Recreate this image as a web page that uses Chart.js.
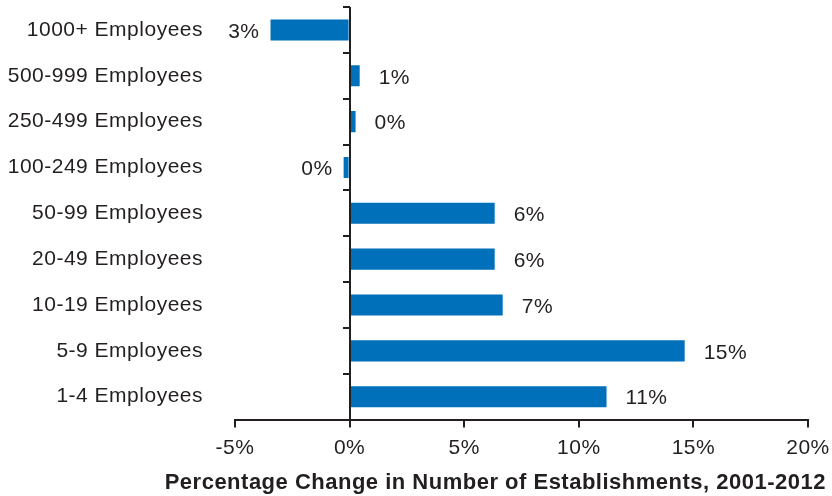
<!DOCTYPE html>
<html>
<head>
<meta charset="utf-8">
<script src="https://cdn.jsdelivr.net/npm/chart.js@4"></script>
<style>
  html, body { margin: 0; padding: 0; background: #fff; }
  #wrap { width: 832px; height: 496px; }
</style>
</head>
<body>
<div id="wrap"><canvas id="chart"></canvas></div>
<script>
const categories = ['1000+ Employees', '500-999 Employees', '250-499 Employees', '100-249 Employees',
  '50-99 Employees', '20-49 Employees', '10-19 Employees', '5-9 Employees', '1-4 Employees'];
const changes = [-3.45, 0.44, 0.26, -0.26, 6.33, 6.33, 6.68, 14.62, 11.21];
const valueLabels = ['3%', '1%', '0%', '0%', '6%', '6%', '7%', '15%', '11%'];
const xTickLabels = ['-5%', '0%', '5%', '10%', '15%', '20%'];

const INK = '#231f20';
const BLUE = '#0070ba';
const FAMILY = '"Liberation Sans", Arial, Helvetica, sans-serif';
const TRACK = '0.5px';

// the original type is tracked out a little
const spacing = {
  id: 'spacing',
  beforeLayout(chart) { chart.ctx.letterSpacing = TRACK; },
  beforeDraw(chart) { chart.ctx.letterSpacing = TRACK; },
};

// zero line with ticks between the categories
const zeroAxis = {
  id: 'zeroAxis',
  afterDraw(chart) {
    const { ctx, chartArea, scales } = chart;
    const x0 = Math.round(scales.x.getPixelForValue(0));
    ctx.save();
    ctx.strokeStyle = INK;
    ctx.lineWidth = 2;
    ctx.beginPath();
    ctx.moveTo(x0, chartArea.top);
    ctx.lineTo(x0, chartArea.bottom);
    for (let i = 0; i < categories.length; i++) {
      const y = Math.round(scales.y.getPixelForValue(i - 0.5));
      ctx.moveTo(x0, y);
      ctx.lineTo(x0 - 7, y);
    }
    ctx.stroke();
    ctx.restore();
  },
};

// percentage labels beside the bar ends
const barLabels = {
  id: 'barLabels',
  afterDatasetsDraw(chart) {
    const ctx = chart.ctx;
    const meta = chart.getDatasetMeta(0);
    ctx.save();
    ctx.letterSpacing = TRACK;
    ctx.font = '21px ' + FAMILY;
    ctx.fillStyle = INK;
    ctx.textBaseline = 'middle';
    meta.data.forEach((bar, i) => {
      if (changes[i] >= 0) {
        ctx.textAlign = 'left';
        ctx.fillText(valueLabels[i], bar.x + 19, bar.y + 2);
      } else {
        ctx.textAlign = 'right';
        ctx.fillText(valueLabels[i], bar.x - 11, bar.y + 2);
      }
    });
    ctx.restore();
  },
};

new Chart(document.getElementById('chart'), {
  type: 'bar',
  data: {
    labels: categories,
    datasets: [{
      data: changes,
      backgroundColor: BLUE,
      borderWidth: 0,
      categoryPercentage: 1,
      barPercentage: 0.46,
    }],
  },
  options: {
    indexAxis: 'y',
    responsive: true,
    maintainAspectRatio: false,
    animation: false,
    layout: { padding: { left: 8, right: 6, top: 7, bottom: 0 } },
    plugins: {
      legend: { display: false },
      tooltip: { enabled: false },
      title: {
        display: true,
        position: 'bottom',
        align: 'end',
        text: 'Percentage Change in Number of Establishments, 2001-2012',
        color: INK,
        font: { family: FAMILY, size: 22, weight: 'bold' },
        padding: { top: 9, bottom: 0 },
      },
    },
    scales: {
      x: {
        type: 'linear',
        min: -5,
        max: 20,
        afterFit: (scale) => {
          scale.height = 41;
          scale.paddingRight = 24;
        },
        ticks: {
          stepSize: 5,
          padding: 8,
          color: INK,
          font: { family: FAMILY, size: 21 },
          callback: (v, i) => xTickLabels[i],
        },
        grid: { drawOnChartArea: false, drawTicks: true, tickLength: 8, color: INK, lineWidth: 2 },
        border: { display: true, color: INK, width: 2 },
      },
      y: {
        type: 'category',
        afterFit: (scale) => {
          scale.width = 227;
          scale.paddingTop = 0;
          scale.paddingBottom = 0;
        },
        ticks: { padding: 32, color: INK, font: { family: FAMILY, size: 21 } },
        grid: { display: false, drawTicks: false },
        border: { display: false },
      },
    },
  },
  plugins: [spacing, zeroAxis, barLabels],
});
</script>
</body>
</html>
